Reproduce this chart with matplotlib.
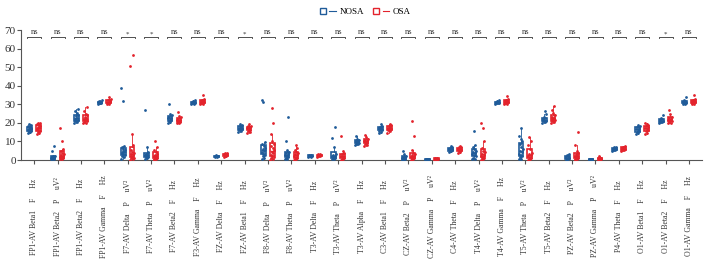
import matplotlib
matplotlib.use("Agg")
import matplotlib.pyplot as plt
from matplotlib.patches import Patch
from matplotlib.lines import Line2D
from matplotlib.legend_handler import HandlerTuple
import matplotlib.transforms as mtrans
import numpy as np

plt.rcParams['font.family'] = ['Liberation Serif', 'DejaVu Serif']

names = ["FP1-AV Beta1", "FP1-AV Beta2", "FP1-AV Beta2", "FP1-AV Gamma", "F7-AV Delta",
         "F7-AV Theta", "F7-AV Beta2", "F3-AV Gamma", "FZ-AV Delta", "FZ-AV Beta1",
         "F8-AV Delta", "F8-AV Theta", "T3-AV Delta", "T3-AV Theta", "T3-AV Alpha",
         "C3-AV Beta1", "CZ-AV Beta2", "CZ-AV Gamma", "C4-AV Theta", "T4-AV Delta",
         "T4-AV Gamma", "T5-AV Theta", "T5-AV Beta2", "PZ-AV Beta2", "PZ-AV Gamma",
         "P4-AV Theta", "O1-AV Beta1", "O1-AV Beta2", "O1-AV Gamma"]
kinds = ["F", "P", "F", "F", "P", "P", "F", "F", "F", "F", "P", "P", "F", "P", "F",
         "F", "P", "P", "F", "P", "F", "P", "F", "P", "P", "F", "F", "F", "F"]
units = {"F": "Hz", "P": "uV²"}
signif = ["ns", "ns", "ns", "ns", "*", "*", "ns", "ns", "ns", "*", "ns", "ns", "ns", "ns",
          "ns", "ns", "ns", "ns", "ns", "ns", "ns", "ns", "ns", "ns", "ns", "ns", "ns", "*", "ns"]

nosa_vals = [
    [14.5, 15.0, 15.3, 15.8, 16.0, 16.3, 16.6, 17.0, 17.4, 17.8, 18.3, 19.0, 19.5],
    [0.3, 0.5, 0.7, 0.9, 1.0, 1.2, 1.4, 1.6, 1.9, 2.3, 5.0, 7.5],
    [19.8, 20.3, 20.8, 21.3, 21.8, 22.2, 22.8, 23.5, 24.3, 25.2, 26.3, 27.5],
    [30.2, 30.5, 30.7, 30.9, 31.0, 31.2, 31.4, 31.7, 32.2],
    [0.8, 1.5, 2.2, 2.8, 3.3, 3.8, 4.3, 4.8, 5.4, 6.0, 6.8, 7.5, 32.0, 39.0],
    [0.6, 1.0, 1.4, 1.8, 2.2, 2.6, 3.0, 3.5, 4.2, 7.0, 27.0],
    [20.0, 20.5, 21.0, 21.5, 22.0, 22.4, 22.9, 23.4, 24.0, 24.6, 30.0],
    [30.0, 30.3, 30.6, 30.8, 31.0, 31.2, 31.5, 31.8, 32.2],
    [1.5, 1.7, 1.9, 2.0, 2.1, 2.2, 2.4, 2.6],
    [15.0, 15.5, 16.0, 16.5, 16.9, 17.3, 17.7, 18.2, 18.8, 19.4],
    [0.5, 1.2, 2.0, 2.8, 3.5, 4.2, 5.0, 5.8, 6.7, 7.6, 8.5, 9.5, 31.0, 32.5],
    [0.3, 0.7, 1.1, 1.5, 2.0, 2.5, 3.0, 3.6, 4.3, 5.2, 10.0, 23.0],
    [1.5, 1.8, 2.0, 2.2, 2.4, 2.6, 2.9],
    [0.3, 0.6, 0.9, 1.2, 1.5, 1.9, 2.3, 2.8, 3.3, 7.0, 12.0, 18.0],
    [8.0, 8.4, 8.8, 9.1, 9.4, 9.7, 10.0, 10.4, 10.8, 11.3, 13.0],
    [14.8, 15.3, 15.8, 16.3, 16.7, 17.1, 17.5, 18.0, 18.6, 19.3],
    [0.2, 0.4, 0.6, 0.8, 1.0, 1.2, 1.5, 1.8, 2.2, 3.0, 5.0],
    [0.1, 0.2, 0.3, 0.4, 0.5, 0.6, 0.8],
    [4.2, 4.6, 5.0, 5.3, 5.6, 5.9, 6.2, 6.5, 6.9, 7.3],
    [0.3, 0.8, 1.3, 1.9, 2.5, 3.1, 3.7, 4.4, 5.1, 6.0, 7.0, 8.0, 15.5],
    [30.2, 30.5, 30.7, 30.9, 31.1, 31.3, 31.5, 31.8, 32.3],
    [0.3, 0.8, 1.4, 2.0, 2.7, 3.4, 4.2, 5.0, 6.0, 7.2, 8.5, 10.0, 11.5, 13.0, 17.5],
    [20.0, 20.4, 20.8, 21.2, 21.6, 22.0, 22.5, 23.0, 25.0, 26.5],
    [0.2, 0.4, 0.7, 1.0, 1.3, 1.6, 2.0, 2.5, 3.5],
    [0.1, 0.2, 0.3, 0.4, 0.5, 0.6, 0.8],
    [4.8, 5.2, 5.5, 5.8, 6.0, 6.2, 6.5, 6.8, 7.2],
    [14.0, 14.6, 15.2, 15.8, 16.3, 16.8, 17.3, 17.8, 18.4, 19.0],
    [20.0, 20.3, 20.6, 20.9, 21.2, 21.5, 21.9, 22.4, 24.0],
    [30.0, 30.3, 30.6, 30.9, 31.2, 31.5, 31.8, 32.2, 34.0],
]
osa_vals = [
    [14.0, 14.6, 15.2, 15.8, 16.4, 16.9, 17.3, 17.8, 18.2, 18.7, 19.2, 19.8, 20.2],
    [0.3, 0.6, 0.9, 1.2, 1.5, 1.8, 2.1, 2.5, 3.0, 3.6, 5.0, 6.2, 10.0, 17.0],
    [19.8, 20.2, 20.6, 21.0, 21.5, 22.0, 22.5, 23.2, 24.0, 25.0, 26.2, 28.5],
    [30.0, 30.4, 30.7, 31.0, 31.2, 31.5, 31.8, 32.2, 32.7, 34.0],
    [0.2, 0.5, 0.9, 1.3, 1.7, 2.1, 2.6, 3.1, 3.7, 4.4, 5.2, 8.3, 14.0, 50.5, 56.5],
    [0.2, 0.5, 0.8, 1.1, 1.5, 1.9, 2.3, 2.8, 3.4, 4.2, 5.5, 7.0, 10.0],
    [19.8, 20.1, 20.4, 20.7, 21.0, 21.4, 21.8, 22.3, 23.0, 23.8, 26.0],
    [30.0, 30.4, 30.7, 31.0, 31.3, 31.6, 31.9, 32.3, 33.0, 35.0],
    [1.8, 2.1, 2.4, 2.7, 3.0, 3.3, 3.6, 4.0],
    [14.8, 15.3, 15.8, 16.3, 16.8, 17.2, 17.6, 18.1, 18.6, 19.2],
    [0.2, 0.6, 1.0, 1.6, 2.2, 2.9, 3.6, 4.4, 5.3, 6.3, 7.5, 8.8, 10.3, 14.0, 20.0, 28.0],
    [0.2, 0.5, 0.8, 1.2, 1.6, 2.0, 2.5, 3.0, 3.6, 4.5, 5.5, 6.5, 8.0],
    [1.6, 1.9, 2.2, 2.5, 2.8, 3.1, 3.5],
    [0.2, 0.5, 0.8, 1.1, 1.5, 1.9, 2.4, 3.0, 3.6, 5.0, 13.0],
    [7.8, 8.3, 8.8, 9.2, 9.6, 10.0, 10.4, 10.9, 11.5, 12.2, 13.5],
    [14.8, 15.4, 16.0, 16.5, 16.9, 17.3, 17.7, 18.2, 18.8, 19.5],
    [0.2, 0.5, 0.8, 1.1, 1.4, 1.8, 2.2, 2.7, 3.3, 4.0, 5.5, 13.0, 21.0],
    [0.1, 0.2, 0.4, 0.6, 0.8, 1.0, 1.3],
    [4.0, 4.5, 5.0, 5.4, 5.8, 6.1, 6.4, 6.8, 7.2, 7.6],
    [0.2, 0.5, 0.9, 1.3, 1.8, 2.3, 2.9, 3.5, 4.2, 5.0, 6.5, 10.0, 17.0, 20.0],
    [30.0, 30.4, 30.7, 31.0, 31.3, 31.6, 31.9, 32.3, 32.8, 34.5],
    [0.2, 0.5, 0.8, 1.2, 1.6, 2.1, 2.6, 3.2, 4.0, 6.0, 8.0, 10.0, 12.5],
    [19.8, 20.3, 20.8, 21.3, 21.8, 22.3, 22.8, 23.4, 24.2, 25.5, 27.0, 29.0],
    [0.2, 0.5, 0.8, 1.2, 1.6, 2.0, 2.5, 3.0, 3.6, 5.0, 8.0, 15.0],
    [0.1, 0.2, 0.4, 0.6, 0.8, 1.0, 1.3, 2.0],
    [4.8, 5.2, 5.6, 5.9, 6.2, 6.5, 6.8, 7.2, 7.6],
    [14.0, 14.7, 15.4, 16.0, 16.6, 17.1, 17.6, 18.2, 18.8, 19.5, 20.2],
    [19.8, 20.2, 20.6, 21.0, 21.4, 21.8, 22.2, 22.7, 23.3, 25.0, 27.0],
    [30.0, 30.4, 30.8, 31.1, 31.4, 31.7, 32.0, 32.5, 33.0, 35.0],
]

BLUE = "#1f5b99"
RED = "#e3232c"
off = 0.19
bw = 0.2

fig = plt.figure(figsize=(7.09, 2.74), dpi=100)
ax = fig.add_axes([0.03, 0.416, 0.96, 0.474])
n = len(names)
x = np.arange(n)

for vals, sign, col in [(nosa_vals, -1, BLUE), (osa_vals, 1, RED)]:
    pos = x + sign * off
    ax.boxplot(vals, positions=pos, widths=bw, showfliers=False, patch_artist=True,
               boxprops=dict(facecolor="white", edgecolor=col, linewidth=1.2),
               medianprops=dict(color=col, linewidth=1.0),
               whiskerprops=dict(color=col, linewidth=0.6),
               capprops=dict(color=col, linewidth=0.0), manage_ticks=False, zorder=2)
    for i, v in enumerate(vals):
        v = np.asarray(v)
        k = np.arange(len(v))
        jit = (((k * 0.618) % 1.0) - 0.5) * 0.17
        ax.scatter(pos[i] + jit, v, s=4.0, color=col, linewidths=0, zorder=3)

ax.set_xlim(-0.55, n - 0.45)
ax.set_ylim(0, 70)
ax.set_yticks(np.arange(0, 71, 10))
ax.set_xticks(x)
ax.set_xticklabels([])
for s in ["top", "right"]:
    ax.spines[s].set_visible(False)
for s in ["left", "bottom"]:
    ax.spines[s].set_color("#555555")
    ax.spines[s].set_linewidth(0.8)
ax.tick_params(axis="y", labelsize=8, length=3, width=0.8, color="#555555", pad=1, labelcolor="#333333")
ax.tick_params(axis="x", length=3, width=0.8, color="#555555")

# category labels (rotated, centred)
trans = mtrans.blended_transform_factory(ax.transData, fig.transFigure)
for i in range(n):
    lab = f"{names[i]}    {kinds[i]}     {units[kinds[i]]}"
    ax.text(i, 0.21, lab, rotation=90, ha="center", va="center", fontsize=5.6,
            color="#333333", transform=trans, clip_on=False)

# significance brackets
for i in range(n):
    yb = 66.3
    ax.plot([i - 0.3, i - 0.3, i + 0.3, i + 0.3], [yb - 0.8, yb, yb, yb - 0.8],
            color="#333333", linewidth=0.6, clip_on=False)
    if signif[i] == "*":
        ax.text(i, yb + 0.3, "*", ha="center", va="bottom", fontsize=5, color="#333333", clip_on=False)
    else:
        ax.text(i, yb + 0.4, "ns", ha="center", va="bottom", fontsize=6, color="#333333", clip_on=False)

h1 = (Patch(facecolor="white", edgecolor=BLUE, linewidth=1.0), Line2D([], [], color=BLUE, linewidth=0.8))
h2 = (Patch(facecolor="white", edgecolor=RED, linewidth=1.0), Line2D([], [], color=RED, linewidth=0.8))
fig.legend([h1, h2], ["NOSA", "OSA"], handler_map={tuple: HandlerTuple(ndivide=None)},
           loc="upper center", bbox_to_anchor=(0.515, 1.0), ncol=2, frameon=False,
           fontsize=6.5, handlelength=1.8, handleheight=0.7, columnspacing=1.0, handletextpad=0.4)

fig.savefig("out.png", dpi=100)
